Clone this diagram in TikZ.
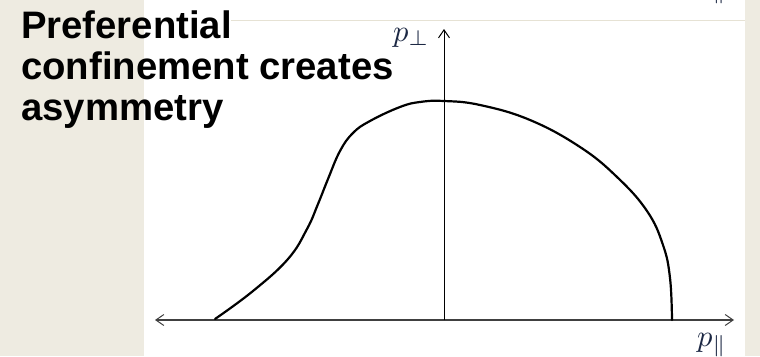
\documentclass[tikz,border=0pt]{standalone}
\usepackage{graphicx}
\usepackage{fontspec}
\setmainfont{Liberation Sans}
\usetikzlibrary{arrows.meta}
\definecolor{beige}{HTML}{EEEBE1}
\definecolor{rulec}{HTML}{E6E2D4}
\definecolor{axisgray}{HTML}{404040}
\definecolor{mathc}{HTML}{1C2844}
\newcommand{\biglab}[1]{\scalebox{3.05}{$#1$}}
\tikzset{
  title/.style={anchor=base west, inner sep=0pt, font=\fontsize{38.3}{41}\selectfont\bfseries, text=black},
  axislabel/.style={inner sep=0pt, text=mathc},
  barb/.style={-{Straight Barb[length=8pt,width=11pt,line width=1pt]}},
  dbarb/.style={{Straight Barb[length=8pt,width=11pt,line width=1pt]}-{Straight Barb[length=8pt,width=11pt,line width=1pt]}},
  curvestyle/.style={line width=2.2pt, black, line join=round, line cap=round}
}
\begin{document}
\begin{tikzpicture}[x=1pt,y=-1pt]
\useasboundingbox (0,0) rectangle (760,356);
% backgrounds
\fill[beige] (0,0) rectangle (760,356);
\fill[white] (144,0) rectangle (745,356);
\draw[rulec, line width=1pt] (231,20.5) -- (745,20.5);
% axes coordinates
\coordinate (xl) at (155,320);
\coordinate (xr) at (734,320);
\coordinate (yb) at (444,320);
\coordinate (yt) at (444,29);
\draw[axisgray, line width=1.4pt, dbarb] (xl) -- (xr);
\draw[black, line width=1pt, barb] (yb) -- (yt);
% labels
\node[axislabel, anchor=base west] (pperp) at (393,41) {\biglab{p_\perp}};
\node[axislabel, anchor=base west] (ppar) at (697,346) {\biglab{p_\parallel}};
\node[axislabel, anchor=south west] (ppartop) at (697,4) {\biglab{p_\parallel}};
% curve
\draw[curvestyle] plot[smooth, tension=0.7] coordinates {
 (215,319) (253,291) (288,259) (307,229) (318,204) (328,179)
 (340,151) (353,133) (370,121) (400,107) (420,102) (444,101) (480,105)
 (530,120) (580,147) (617,177) (647,211) (663,245) (670,278) (672,320)};
% title text
\node[title] (t1) at (21,38) {Preferential};
\node[title] (t2) at (21,79) {confinement creates};
\node[title] (t3) at (21,120) {asymmetry};
\end{tikzpicture}
\end{document}
